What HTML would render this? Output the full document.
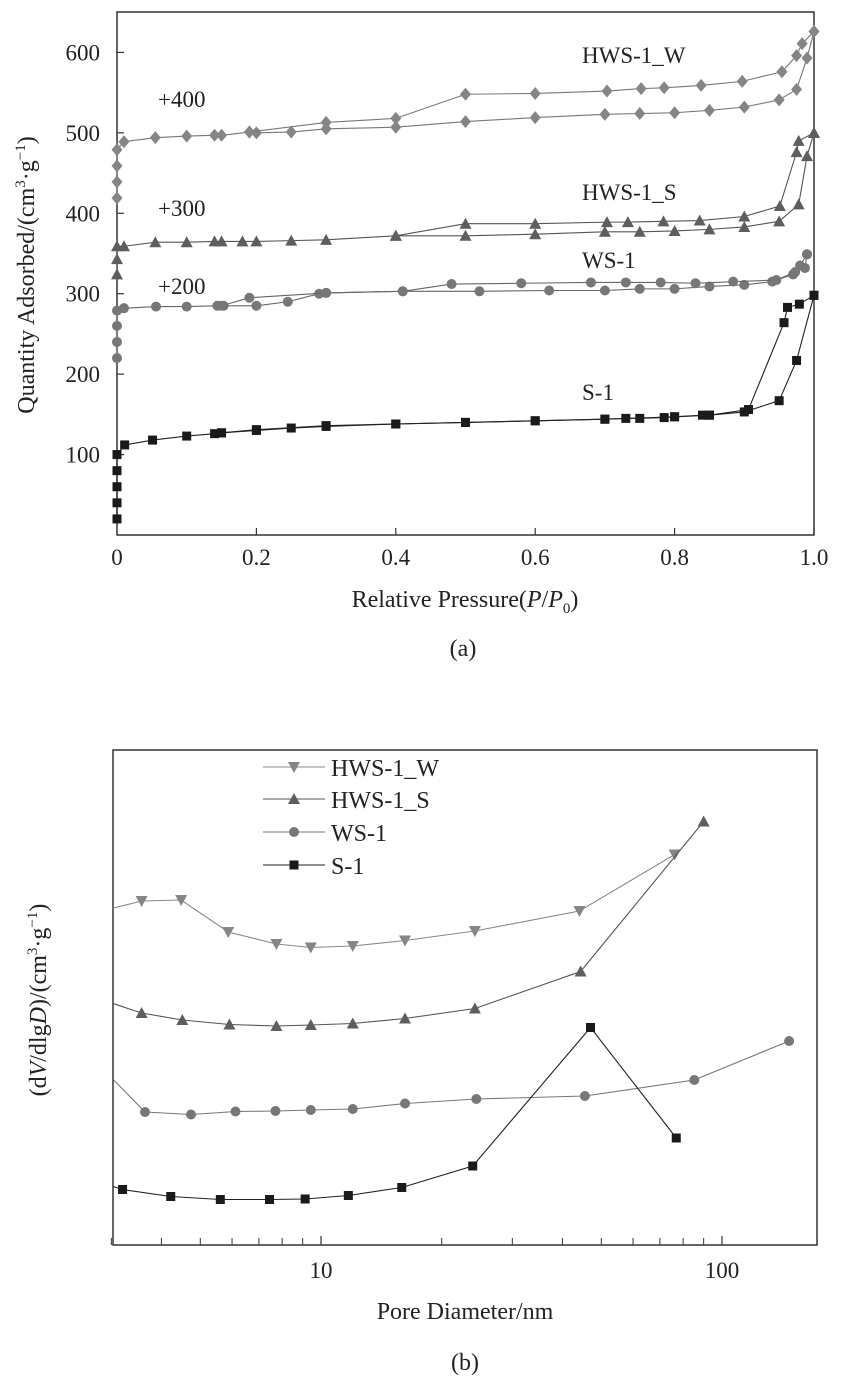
<!DOCTYPE html>
<html><head><meta charset="utf-8"><style>
body{margin:0;background:#fff}
svg{display:block;font-family:"Liberation Serif",serif}
</style></head><body>
<svg id="fig" width="841" height="1381" viewBox="0 0 841 1381">
<defs><clipPath id="clipB"><rect x="113" y="750" width="704" height="495"/></clipPath></defs>
<g id="top"></g>
<g id="bot"></g>
</svg>
<script>
// ---------- Chart (a) data ----------
const aXTicks=[0.2,0.4,0.6,0.8,1.0];
const aXTickLabels=["0.2","0.4","0.6","0.8","1.0"];
const aYTicks=[100,200,300,400,500,600];
const s1AdsP=[0,0,0,0,0,0.011,0.051,0.10,0.14,0.15,0.20,0.25,0.30,0.40,0.50,0.60,0.70,0.73,0.75,0.785,0.80,0.84,0.85,0.90,0.95,0.975,1.0];
const s1AdsV=[20,40,60,80,100,112,118,123,126,127,130,133,135,138,140,142,144,145,145,146,147,149,149,153,167,217,298];
const s1DesP=[1.0,0.979,0.962,0.957,0.906,0.85,0.80,0.70,0.60,0.50,0.40,0.30,0.20,0.15];
const s1DesV=[298,287,283,264,156,149,147,144,142,140,138,136,131,127];
const wsAdsP=[0,0,0,0,0.01,0.056,0.10,0.144,0.153,0.20,0.245,0.29,0.30,0.41,0.52,0.62,0.70,0.75,0.80,0.85,0.90,0.94,0.97,0.98,0.99];
const wsAdsV=[220,240,260,279,282,284,284,285,285,285,290,300,301,303,303,304,304,306,306,309,311,315,324,335,349];
const wsDesP=[0.99,0.987,0.973,0.946,0.884,0.83,0.78,0.73,0.68,0.58,0.48,0.41,0.30,0.19,0.15];
const wsDesV=[349,332,327,317,315,313,314,314,314,313,312,303,301,295,285];
const hsAdsP=[0,0,0,0.01,0.055,0.10,0.14,0.15,0.18,0.20,0.25,0.30,0.40,0.50,0.60,0.70,0.75,0.80,0.85,0.90,0.95,0.978,0.99,1.0];
const hsAdsV=[324,343,359,359,364,364,365,365,365,365,366,367,372,372,374,377,377,378,380,383,390,411,471,500];
const hsDesP=[1.0,0.978,0.975,0.951,0.90,0.836,0.784,0.733,0.703,0.60,0.50,0.40];
const hsDesV=[500,490,476,409,396,391,390,389,389,387,387,372];
const hwAdsP=[0,0,0,0,0.01,0.055,0.10,0.14,0.15,0.19,0.20,0.25,0.30,0.40,0.50,0.60,0.70,0.75,0.80,0.85,0.90,0.95,0.975,0.99,1.0];
const hwAdsV=[419,439,459,479,489,494,496,497,497,501,500,501,505,507,514,519,523,524,525,528,532,541,554,593,626];
const hwDesP=[1.0,0.983,0.975,0.954,0.897,0.838,0.785,0.752,0.703,0.60,0.50,0.40,0.30,0.19];
const hwDesV=[626,611,596,576,564,559,556,555,552,549,548,518,513,501];

// ---------- Chart (b) data ----------
const bMinorTicks=[4,5,6,7,8,9,20,30,40,50,60,70,80,90];
const bMajorTicks=[10,100];
const bMajorLabels=["10","100"];
const hwD=[2.9,3.57,4.48,5.87,7.74,9.43,12.0,16.2,24.2,44.1,76.2];
const hwY=[67.8,69.6,69.8,63.4,61.0,60.3,60.6,61.7,63.6,67.6,78.9];
const hsD=[2.9,3.57,4.51,5.91,7.74,9.43,12.0,16.2,24.2,44.4,90];
const hsY=[49.6,47.2,45.8,44.9,44.6,44.8,45.1,46.1,48.1,55.5,85.5];
const wsD=[2.9,3.64,4.74,6.12,7.70,9.43,12.0,16.2,24.4,45.5,85.3,147];
const wsY=[35.5,27.4,26.9,27.5,27.6,27.8,28.0,29.1,30.0,30.6,33.8,41.6];
const s1D=[2.9,3.20,4.22,5.61,7.44,9.13,11.7,15.9,23.9,47.0,76.9];
const s1Y=[13.0,11.9,10.5,9.9,9.9,10.0,10.7,12.3,16.6,44.3,22.2];

const NS="http://www.w3.org/2000/svg";
function mk(parent,tag,attrs,text){const e=document.createElementNS(NS,tag);for(const k in attrs)e.setAttribute(k,attrs[k]);if(text!==undefined)e.textContent=text;parent.appendChild(e);return e;}

function marker(g,shape,x,y,color){
  let e;
  if(shape==="square")e=mk(g,"rect",{x:x-4.5,y:y-4.5,width:9,height:9,fill:color});
  else if(shape==="circle")e=mk(g,"circle",{cx:x,cy:y,r:5,fill:color});
  else if(shape==="diamond")e=mk(g,"polygon",{points:`${x},${y-6.5} ${x+5.5},${y} ${x},${y+6.5} ${x-5.5},${y}`,fill:color});
  else if(shape==="up")e=mk(g,"polygon",{points:`${x},${y-6} ${x+6},${y+5} ${x-6},${y+5}`,fill:color});
  else e=mk(g,"polygon",{points:`${x-6},${y-5} ${x+6},${y-5} ${x},${y+6}`,fill:color});
  return e;
}

// ---------- Draw (a) ----------
const T=document.getElementById("top");
const ax=p=>117+p*697, ay=v=>535-v*0.8043;
const frameA=mk(T,"rect",{x:117,y:12,width:697,height:523,fill:"none",stroke:"#333","stroke-width":1.5});


aYTicks.forEach(v=>{
  mk(T,"line",{x1:117,x2:124,y1:ay(v),y2:ay(v),stroke:"#333","stroke-width":1.2});
  const t=mk(T,"text",{x:100,y:ay(v)+8,"font-size":23,"text-anchor":"end",fill:"#222"},String(v));
  
  
});
const t0=mk(T,"text",{x:117,y:565,"font-size":23,"text-anchor":"middle",fill:"#222"},"0");


aXTicks.forEach((p,i)=>{
  mk(T,"line",{x1:ax(p),x2:ax(p),y1:535,y2:528,stroke:"#333","stroke-width":1.2});
  const t=mk(T,"text",{x:ax(p),y:565,"font-size":23,"text-anchor":"middle",fill:"#222"},aXTickLabels[i]);
  
  
});
function seriesA(name,P,V,shape,color,lineColor){
  const g=mk(T,"g",{});
  
  
  mk(g,"polyline",{points:P.map((p,i)=>ax(p)+","+ay(V[i])).join(" "),fill:"none",stroke:lineColor,"stroke-width":1.1});
  P.forEach((p,i)=>marker(g,shape,ax(p),ay(V[i]),color));
}
seriesA("s1-adsorption",s1AdsP,s1AdsV,"square","#1a1a1a","#222");
seriesA("s1-desorption",s1DesP,s1DesV,"square","#1a1a1a","#222");
seriesA("ws1-adsorption",wsAdsP,wsAdsV,"circle","#777","#666");
seriesA("ws1-desorption",wsDesP,wsDesV,"circle","#777","#666");
seriesA("hws1s-adsorption",hsAdsP,hsAdsV,"up","#5e5e5e","#555");
seriesA("hws1s-desorption",hsDesP,hsDesV,"up","#5e5e5e","#555");
seriesA("hws1w-adsorption",hwAdsP,hwAdsV,"diamond","#858585","#777");
seriesA("hws1w-desorption",hwDesP,hwDesV,"diamond","#858585","#777");
[["HWS-1_W",582,63,"label-hws1w"],["+400",158,107,"offset-400"],["HWS-1_S",582,200,"label-hws1s"],["+300",158,216,"offset-300"],["WS-1",582,268,"label-ws1"],["+200",158,294,"offset-200"],["S-1",582,400,"label-s1"]].forEach(d=>{
  const t=mk(T,"text",{x:d[1],y:d[2],"font-size":23,fill:"#222"},d[0]);
  
  
});
const yta=mk(T,"text",{transform:"translate(34,275) rotate(-90)","font-size":24,"text-anchor":"middle",fill:"#222"});


yta.innerHTML='Quantity Adsorbed/(cm<tspan dy="-9" font-size="15">3</tspan><tspan dy="9">·g</tspan><tspan dy="-9" font-size="15">−1</tspan><tspan dy="9">)</tspan>';
const xta=mk(T,"text",{x:465,y:607,"font-size":24,"text-anchor":"middle",fill:"#222"});


xta.innerHTML='Relative Pressure(<tspan font-style="italic">P</tspan>/<tspan font-style="italic">P</tspan><tspan dy="6" font-size="15">0</tspan><tspan dy="-6">)</tspan>';
const capA=mk(T,"text",{x:463,y:656,"font-size":24,"text-anchor":"middle",fill:"#222"},"(a)");



// ---------- Draw (b) ----------
const B=document.getElementById("bot");
const bx=d=>321+401*(Math.log10(d)-1), by=v=>1249-v*5.0;
const frameB=mk(B,"rect",{x:113,y:750,width:704,height:495,fill:"none",stroke:"#333","stroke-width":1.5});


bMinorTicks.concat([3]).forEach(d=>mk(B,"line",{x1:bx(d),x2:bx(d),y1:1245,y2:1238,stroke:"#333","stroke-width":1}));
bMajorTicks.forEach((d,i)=>{
  mk(B,"line",{x1:bx(d),x2:bx(d),y1:1245,y2:1236,stroke:"#333","stroke-width":1.2});
  const t=mk(B,"text",{x:bx(d),y:1278,"font-size":23,"text-anchor":"middle",fill:"#222"},bMajorLabels[i]);
  
  
});
function seriesB(name,D,Y,shape,color,lineColor){
  const g=mk(B,"g",{"clip-path":"url(#clipB)"});
  
  
  mk(g,"polyline",{points:D.map((d,i)=>bx(d)+","+by(Y[i])).join(" "),fill:"none",stroke:lineColor,"stroke-width":1.1});
  D.forEach((d,i)=>marker(g,shape,bx(d),by(Y[i]),color));
}
seriesB("hws1w-curve",hwD,hwY,"down","#858585","#888");
seriesB("hws1s-curve",hsD,hsY,"up","#5e5e5e","#555");
seriesB("ws1-curve",wsD,wsY,"circle","#777","#777");
seriesB("s1-curve",s1D,s1Y,"square","#1a1a1a","#222");
const leg=[["HWS-1_W","down","#858585","#888",767],["HWS-1_S","up","#5e5e5e","#555",799],["WS-1","circle","#777","#777",832],["S-1","square","#1a1a1a","#222",865]];
leg.forEach(l=>{
  const g=mk(B,"g",{});
  
  
  mk(g,"line",{x1:263,x2:325,y1:l[4],y2:l[4],stroke:l[3],"stroke-width":1.1});
  marker(g,l[1],294,l[4],l[2]);
  mk(g,"text",{x:331,y:l[4]+9,"font-size":24,fill:"#222"},l[0]);
});
const ytb=mk(B,"text",{transform:"translate(46,1000) rotate(-90)","font-size":24,"text-anchor":"middle",fill:"#222"});


ytb.innerHTML='(d<tspan font-style="italic">V</tspan>/dlg<tspan font-style="italic">D</tspan>)/(cm<tspan dy="-9" font-size="15">3</tspan><tspan dy="9">·g</tspan><tspan dy="-9" font-size="15">−1</tspan><tspan dy="9">)</tspan>';
const xtb=mk(B,"text",{x:465,y:1319,"font-size":24,"text-anchor":"middle",fill:"#222"},"Pore Diameter/nm");


const capB=mk(B,"text",{x:465,y:1370,"font-size":24,"text-anchor":"middle",fill:"#222"},"(b)");


</script>
</body></html>
